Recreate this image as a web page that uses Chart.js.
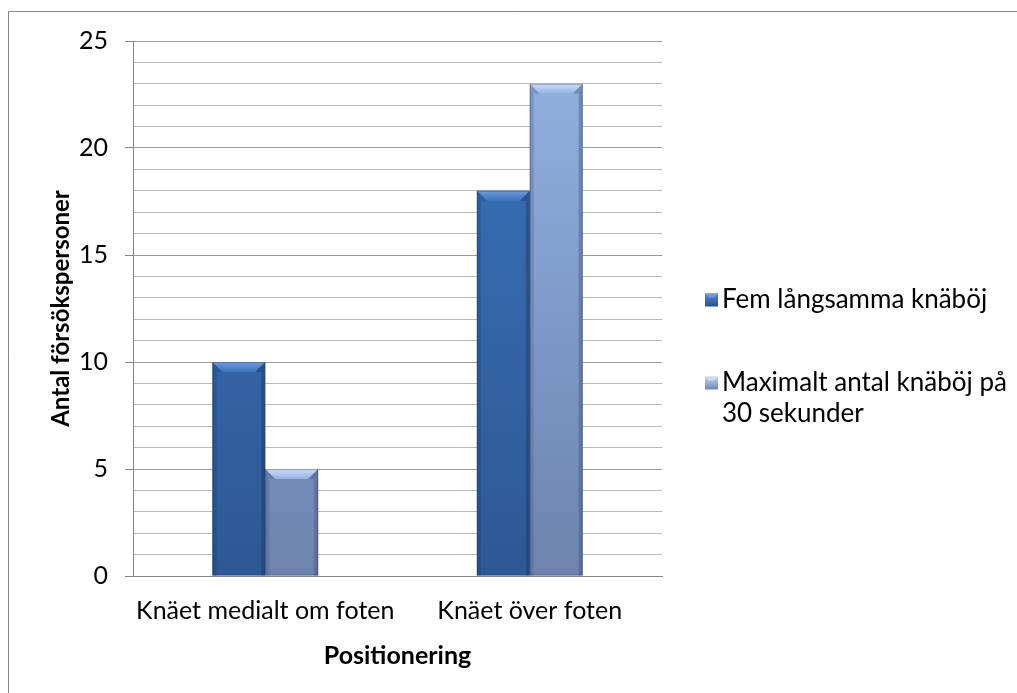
<!DOCTYPE html>
<html>
<head>
<meta charset="utf-8">
<script src="https://cdn.jsdelivr.net/npm/chart.js@4.4.1/dist/chart.umd.min.js"></script>
<style>
  html, body { margin: 0; padding: 0; background: #ffffff; }
  #wrap { width: 1017px; height: 693px; position: relative; }
</style>
</head>
<body>
<div id="wrap"><canvas id="c" width="1017" height="693"></canvas></div>
<script>
const categories = ["Knäet medialt om foten", "Knäet över foten"];
const seriesNames = ["Fem långsamma knäböj", ["Maximalt antal knäböj på", "30 sekunder"]];
const fem = [10, 18];
const maximalt = [5, 23];
const yMin = 0, yMax = 25, yStep = 1, yLabelStep = 5;
const xTitle = "Positionering";
const yTitle = "Antal försökspersoner";

const FONT = "Lato, 'Open Sans', sans-serif";

function vGrad(ctx, top, bottom, c1, c2) {
  const g = ctx.createLinearGradient(0, top, 0, bottom);
  g.addColorStop(0, c1);
  g.addColorStop(1, c2);
  return g;
}
const palettes = [
  { top: "#3b72bb", bottom: "#2c5995", bevel: "#6d9be0", edge: "rgba(20,50,90,0.45)", legend: ["#5a8ad4", "#24508e"] },
  { top: "#93b2e2", bottom: "#6d83ae", bevel: "#c9dcf7", edge: "rgba(60,75,110,0.45)", legend: ["#c4d4ee", "#6f86b3"] }
];
function barFill(i) {
  return (c) => {
    const ca = c.chart.chartArea;
    if (!ca) return palettes[i].top;
    return vGrad(c.chart.ctx, ca.top, ca.bottom, palettes[i].top, palettes[i].bottom);
  };
}

const bevelPlugin = {
  id: "bevel",
  afterDatasetsDraw(chart) {
    const ctx = chart.ctx;
    chart.data.datasets.forEach((ds, di) => {
      const meta = chart.getDatasetMeta(di);
      const p = palettes[di];
      meta.data.forEach((bar) => {
        const { x, y, base, width } = bar.getProps(["x", "y", "base", "width"], true);
        const l = x - width / 2, r = x + width / 2, t = y, b = base;
        const bv = Math.min(10, (b - t) / 3), sv = 4;
        ctx.save();
        // top bevel
        const g = ctx.createLinearGradient(0, t, 0, t + bv);
        g.addColorStop(0, p.bevel);
        g.addColorStop(1, p.top);
        ctx.fillStyle = g;
        ctx.beginPath();
        ctx.moveTo(l, t); ctx.lineTo(r, t); ctx.lineTo(r - bv, t + bv); ctx.lineTo(l + bv, t + bv); ctx.closePath();
        ctx.fill();
        // side edges
        ctx.fillStyle = p.edge;
        ctx.beginPath();
        ctx.moveTo(l, t); ctx.lineTo(l + bv, t + bv); ctx.lineTo(l + sv, t + bv); ctx.lineTo(l + sv, b); ctx.lineTo(l, b); ctx.closePath();
        ctx.globalAlpha = 0.5; ctx.fill();
        ctx.beginPath();
        ctx.moveTo(r, t); ctx.lineTo(r - bv, t + bv); ctx.lineTo(r - sv, t + bv); ctx.lineTo(r - sv, b); ctx.lineTo(r, b); ctx.closePath();
        ctx.globalAlpha = 0.8; ctx.fill();
        ctx.globalAlpha = 1;
        ctx.strokeStyle = "rgba(30,50,80,0.35)";
        ctx.lineWidth = 1;
        ctx.strokeRect(l + 0.5, t + 0.5, width - 1, b - t - 1);
        ctx.restore();
      });
    });
  }
};

const framePlugin = {
  id: "frame",
  afterDraw(chart) {
    const ctx = chart.ctx;
    ctx.save();
    ctx.strokeStyle = "#868686";
    ctx.lineWidth = 1;
    ctx.beginPath();
    ctx.moveTo(8.5, chart.height + 5);
    ctx.lineTo(8.5, 11.5);
    ctx.lineTo(chart.width + 5, 11.5);
    ctx.stroke();
    ctx.restore();
  }
};

const legendPlugin = {
  id: "customLegend",
  afterDraw(chart) {
    const ctx = chart.ctx;
    const ca = chart.chartArea;
    const boxX = ca.right + 43, size = 13;
    const ys = [300, 383];
    const lh = 31;
    ctx.save();
    ctx.font = "26px " + FONT;
    ctx.textBaseline = "middle";
    ctx.fillStyle = "#000";
    chart.data.datasets.forEach((ds, i) => {
      const y = ys[i];
      const p = palettes[i];
      const g = ctx.createLinearGradient(0, y - size / 2, 0, y + size / 2);
      g.addColorStop(0, p.legend[0]);
      g.addColorStop(1, p.legend[1]);
      ctx.fillStyle = g;
      ctx.fillRect(boxX, y - size / 2, size, size);
      ctx.fillStyle = p.bevel;
      ctx.beginPath();
      ctx.moveTo(boxX, y - size / 2); ctx.lineTo(boxX + size, y - size / 2); ctx.lineTo(boxX + size - 4, y - size / 2 + 4); ctx.lineTo(boxX + 4, y - size / 2 + 4); ctx.closePath();
      ctx.fill();
      ctx.fillStyle = "#000";
      const lines = Array.isArray(ds.label) ? ds.label : [ds.label];
      lines.forEach((t, k) => ctx.fillText(t, boxX + size + 4, y + k * lh));
    });
    ctx.restore();
  }
};

new Chart(document.getElementById("c"), {
  type: "bar",
  data: {
    labels: categories,
    datasets: [
      { label: seriesNames[0], data: fem, backgroundColor: barFill(0), borderWidth: 0, categoryPercentage: 0.4, barPercentage: 1.0 },
      { label: seriesNames[1], data: maximalt, backgroundColor: barFill(1), borderWidth: 0, categoryPercentage: 0.4, barPercentage: 1.0 }
    ]
  },
  options: {
    responsive: false,
    animation: false,
    devicePixelRatio: 1,
    layout: { padding: { left: 47, right: 355, top: 41, bottom: 22 } },
    plugins: { legend: { display: false }, tooltip: { enabled: false } },
    scales: {
      x: {
        grid: { display: false, drawTicks: false },
        border: { display: true, color: "#868686", width: 1 },
        ticks: { color: "#000", font: { family: FONT, size: 25 }, padding: 20 },
        title: { display: true, text: xTitle, color: "#000", font: { family: FONT, size: 25, weight: "bold" }, padding: { top: 0, bottom: 0 } },
        afterFit(s) { s.height = 95; }
      },
      y: {
        min: yMin, max: yMax,
        grid: {
          color: (c) => (c.tick && c.tick.value % yLabelStep === 0) ? "#9a9a9a" : "#b8b8b8",
          tickColor: (c) => (c.tick && c.tick.value % yLabelStep === 0) ? "#868686" : "rgba(0,0,0,0)",
          tickLength: 8,
          drawTicks: true
        },
        border: { display: true, color: "#868686", width: 1 },
        ticks: {
          stepSize: yStep,
          autoSkip: false,
          color: "#000",
          font: { family: FONT, size: 25 },
          padding: 17,
          callback: (v) => (v % yLabelStep === 0 ? String(v) : "")
        },
        title: { display: true, text: yTitle, color: "#000", font: { family: FONT, size: 24, weight: "bold" }, padding: { top: 0, bottom: 0 } },
        afterFit(s) { s.width = 86; }
      }
    }
  },
  plugins: [bevelPlugin, framePlugin, legendPlugin]
});
</script>
</body>
</html>
